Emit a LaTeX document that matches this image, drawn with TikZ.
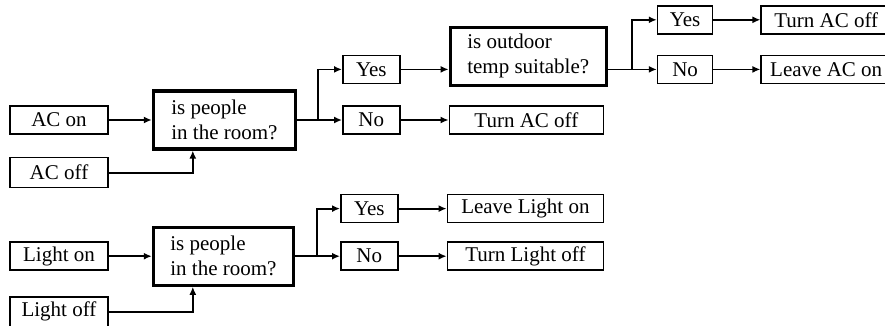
\documentclass[tikz,border=0pt]{standalone}
\usepackage{fontspec}
\setmainfont{Liberation Serif}
\usetikzlibrary{arrows.meta, positioning, calc}
\tikzset{
  arrowK/.style={-{Latex[length=8pt,width=7pt]}, black, line width=1.8pt},
  lineK/.style={black, line width=1.8pt},
  boxS/.style={rectangle, draw=black, line width=1.6pt, fill=white, inner sep=0pt,
               align=center, font=\fontsize{21}{25}\selectfont, minimum height=28pt},
  boxQ/.style={rectangle, draw=black, line width=3.2pt, fill=white, inner sep=0pt,
               align=left, font=\fontsize{21}{25}\selectfont, minimum height=58pt},
}
\begin{document}
\begin{tikzpicture}[x=1pt, y=1pt]
    \useasboundingbox (0,0) rectangle (885,-325);

    % AC part
    \node[boxS, minimum width=98pt] (acon) at (59,-120) {AC on};
    \node[boxS, minimum width=98pt, minimum height=30pt, below=22pt of acon] (acoff) {AC off};
    \node[boxQ, minimum width=142pt, right=43pt of acon] (q1) {is people\\in the room?};
    \node[boxS, minimum width=57pt, right=45pt of q1] (no1) {No};
    \node[boxS, minimum width=57pt, above=21pt of no1] (yes1) {Yes};
    \node[boxQ, minimum width=156pt, right=48pt of yes1, yshift=13pt] (q2) {is outdoor\\temp suitable?};
    \node[boxS, minimum width=154pt, right=48pt of no1] (acoff1) {Turn AC off};
    \coordinate (j1) at ($(q1.east)+(21,0)$);
    \coordinate (j2) at ($(q2.east |- yes1)+(24,0)$);
    \node[boxS, minimum width=55pt, right=25pt of j2] (no2) {No};
    \node[boxS, minimum width=55pt, above=20pt of no2] (yes2) {Yes};
    \node[boxS, minimum width=130pt, right=47pt of yes2] (acoff2) {Turn AC off};
    \node[boxS, minimum width=130pt, right=47pt of no2] (acleave) {Leave AC on};

    \draw[arrowK] (acon) -- (q1);
    \draw[arrowK] (acoff) -| ([xshift=41pt]q1.south west);
    \draw[lineK] (q1) -- (j1);
    \draw[arrowK] (j1) |- (yes1); \draw[arrowK] (j1) -- (no1);
    \draw[arrowK] (yes1) -- (yes1 -| q2.west);
    \draw[arrowK] (no1) -- (acoff1);
    \draw[lineK] (q2.east |- j2) -- (j2);
    \draw[arrowK] (j2) |- (yes2); \draw[arrowK] (j2) -- (no2);
    \draw[arrowK] (yes2) -- (acoff2); \draw[arrowK] (no2) -- (acleave);

    % Light part
    \node[boxS, minimum width=98pt, below=53pt of acoff] (lon) {Light on};
    \node[boxS, minimum width=98pt, minimum height=30pt, below=25pt of lon] (loff) {Light off};
    \node[boxQ, minimum width=140pt, right=43pt of lon] (q3) {is people\\in the room?};
    \node[boxS, minimum width=57pt, right=45pt of q3] (no3) {No};
    \node[boxS, minimum width=57pt, above=18pt of no3] (yes3) {Yes};
    \node[boxS, minimum width=156pt, right=48pt of yes3] (lleave) {Leave Light on};
    \node[boxS, minimum width=156pt, right=48pt of no3] (loff1) {Turn Light off};
    \coordinate (j3) at ($(q3.east)+(22,0)$);

    \draw[arrowK] (lon) -- (q3);
    \draw[arrowK] (loff) -| ([xshift=41pt]q3.south west);
    \draw[lineK] (q3) -- (j3);
    \draw[arrowK] (j3) |- (yes3); \draw[arrowK] (j3) -- (no3);
    \draw[arrowK] (yes3) -- (lleave); \draw[arrowK] (no3) -- (loff1);
\end{tikzpicture}
\end{document}
